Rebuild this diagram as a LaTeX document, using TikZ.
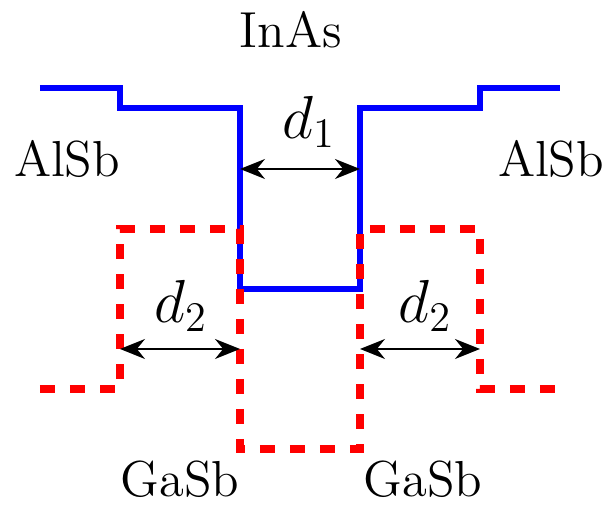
\documentclass[tikz,border=0pt]{standalone}
\usepackage{amsmath}
\usepackage{tikz}
\usetikzlibrary{arrows.meta}

\begin{document}
\begin{tikzpicture}[
  band/.style={line width=1.7pt},
  gap/.style={line width=2.3pt, dash pattern=on 1.5mm off 1.5mm},
  dim/.style={{Stealth[length=2.5mm,width=2mm]}-{Stealth[length=2.5mm,width=2mm]}, line width=0.5pt},
  lbl/.style={font=\Large},
  mlbl/.style={font=\fontsize{16.5}{19}\selectfont}
]
  \useasboundingbox (0,0) rectangle (6.06,5.09);

  % conduction band
  \draw[band, blue] (0.4,4.21) -- (1.2,4.21) -- (1.2,4.01) -- (2.4,4.01) -- (2.4,2.20)
    -- (3.6,2.20) -- (3.6,4.01) -- (4.8,4.01) -- (4.8,4.21) -- (5.6,4.21);
  % valence band
  \draw[gap, red] (0.4,1.20) -- (1.2,1.20) -- (1.2,2.80) -- (2.4,2.80) -- (2.4,0.60)
    -- (3.6,0.60) -- (3.6,2.80) -- (4.8,2.80) -- (4.8,1.20) -- (5.6,1.20);

  \coordinate (w1) at (2.4,3.40);
  \coordinate (w2) at (3.6,3.40);
  \coordinate (g1) at (1.2,1.60);
  \coordinate (g2) at (2.4,1.60);
  \coordinate (g3) at (3.6,1.60);
  \coordinate (g4) at (4.8,1.60);

  \draw[dim] (w1) -- (w2);
  \draw[dim] (g1) -- (g2);
  \draw[dim] (g3) -- (g4);

  \node[mlbl] (d1) at (3.09,3.87) {$d_1$};
  \node[mlbl] (d2l) at (1.81,2.03) {$d_2$};
  \node[mlbl] (d2r) at (4.25,2.03) {$d_2$};

  \node[lbl, anchor=base] (inas) at (2.91,4.61) {InAs};
  \node[lbl, anchor=base] (alsbl) at (0.67,3.32) {AlSb};
  \node[lbl, anchor=base] (alsbr) at (5.51,3.32) {AlSb};
  \node[lbl, anchor=base] (gasbl) at (1.80,0.12) {GaSb};
  \node[lbl, anchor=base] (gasbr) at (4.23,0.12) {GaSb};
\end{tikzpicture}
\end{document}
